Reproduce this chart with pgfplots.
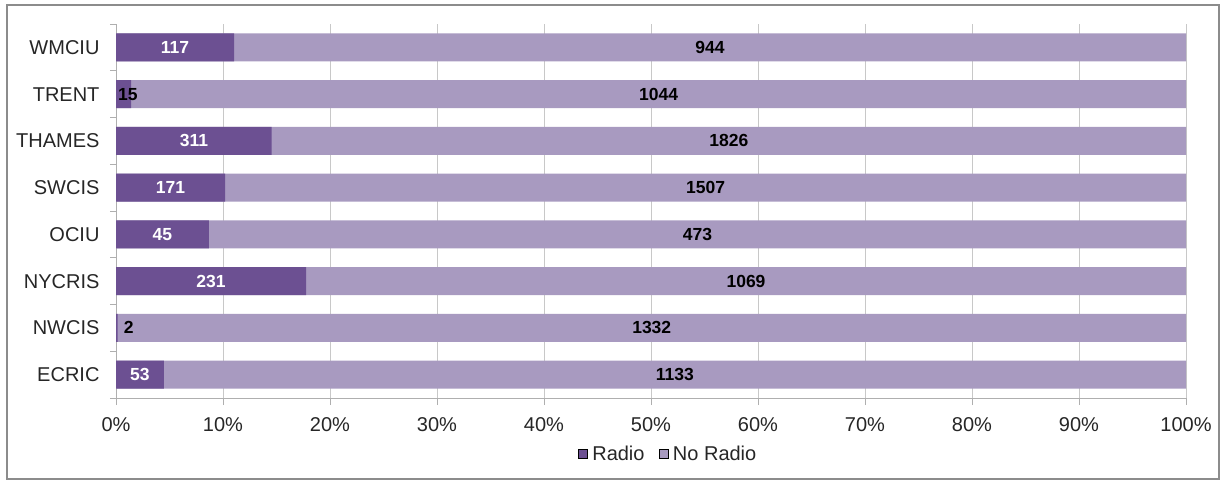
\documentclass[border=0pt]{standalone}
\usepackage{fontspec}
\setmainfont{Liberation Sans}
\usepackage{pgfplots}
\pgfplotsset{compat=1.18}
\definecolor{radio}{RGB}{108,80,146}
\definecolor{noradio}{RGB}{168,154,192}
\definecolor{txt}{RGB}{38,38,38}
\definecolor{gridc}{RGB}{200,200,200}
\definecolor{axc}{RGB}{175,175,175}
\definecolor{frame}{RGB}{140,140,140}
\begin{document}
\begin{tikzpicture}
\path (0pt,0pt) rectangle (1220pt,480pt);
\draw[frame, line width=1.2pt] (7pt,1pt) rectangle (1219pt,475pt);
\begin{axis}[
  at={(116pt,82pt)}, anchor=south west,
  scale only axis, width=1070pt, height=374pt,
  xmin=0, xmax=1, ymin=-0.5, ymax=7.5,
  axis x line=bottom, axis y line=left,
  axis line style={draw=axc, line width=0.8pt, -},
  xtick={0,0.1,0.2,0.3,0.4,0.5,0.6,0.7,0.8,0.9,1},
  xticklabels={0\%,10\%,20\%,30\%,40\%,50\%,60\%,70\%,80\%,90\%,100\%},
  ytick={0,1,2,3,4,5,6,7},
  yticklabels={ECRIC,NWCIS,NYCRIS,OCIU,SWCIS,THAMES,TRENT,WMCIU},
  minor ytick={-0.5,0.5,1.5,2.5,3.5,4.5,5.5,6.5,7.5},
  tick align=outside, major tick length=7pt, minor tick length=6pt,
  major y tick style={draw=none},
  minor y tick style={draw=axc, line width=0.8pt},
  major x tick style={draw=axc, line width=0.8pt},
  xmajorgrids, major x grid style={draw=gridc, line width=0.8pt},
  tick label style={font=\fontsize{20}{23}\selectfont, color=txt},
  xticklabel style={yshift=-9pt},
  yticklabel style={xshift=-6pt},
  legend style={at={(0.516,-0.15)}, anchor=center, draw=none, fill=none,
    legend columns=-1, font=\fontsize{20}{23}\selectfont, text=txt,
    /tikz/every odd column/.append style={column sep=3pt},
    /tikz/every even column/.append style={column sep=12pt}},
  legend image code/.code={\fill[#1] (0pt,-4.5pt) rectangle (9pt,4.5pt);},
]
\addlegendimage{fill=radio}
\addlegendentry{Radio}
\addlegendimage{fill=noradio}
\addlegendentry{No Radio}
% total (No Radio fills the rest of each 100% bar)
\addplot[xbar, bar width=28pt, bar shift=0pt, fill=noradio, draw=none, forget plot]
  coordinates {(1,0) (1,1) (1,2) (1,3) (1,4) (1,5) (1,6) (1,7)};
% Radio share
\addplot[xbar, bar width=28pt, bar shift=0pt, fill=radio, draw=none, forget plot]
  coordinates {(0.0447,0) (0.0015,1) (0.1777,2) (0.0869,3) (0.1019,4) (0.1455,5) (0.0142,6) (0.1103,7)};
% labels: Radio (white)
\addplot[only marks, mark=none, forget plot, nodes near coords, point meta=explicit symbolic,
  every node near coord/.append style={anchor=center, font=\fontsize{17.5}{19}\selectfont\bfseries, text=white}]
  coordinates {(0.0223,0) [53] (0.0888,2) [231] (0.0434,3) [45] (0.0510,4) [171] (0.0728,5) [311] (0.0551,7) [117]};
% labels: Radio (dark, small segments)
\addplot[only marks, mark=none, forget plot, nodes near coords, point meta=explicit symbolic,
  every node near coord/.append style={anchor=center, font=\fontsize{17.5}{19}\selectfont\bfseries, text=black}]
  coordinates {(0.0120,1) [2] (0.0110,6) [15]};
% labels: No Radio
\addplot[only marks, mark=none, forget plot, nodes near coords, point meta=explicit symbolic,
  every node near coord/.append style={anchor=center, font=\fontsize{17.5}{19}\selectfont\bfseries, text=black}]
  coordinates {(0.5223,0) [1133] (0.5007,1) [1332] (0.5888,2) [1069] (0.5434,3) [473] (0.5510,4) [1507] (0.5728,5) [1826] (0.5071,6) [1044] (0.5551,7) [944]};
\end{axis}
\end{tikzpicture}
\end{document}
